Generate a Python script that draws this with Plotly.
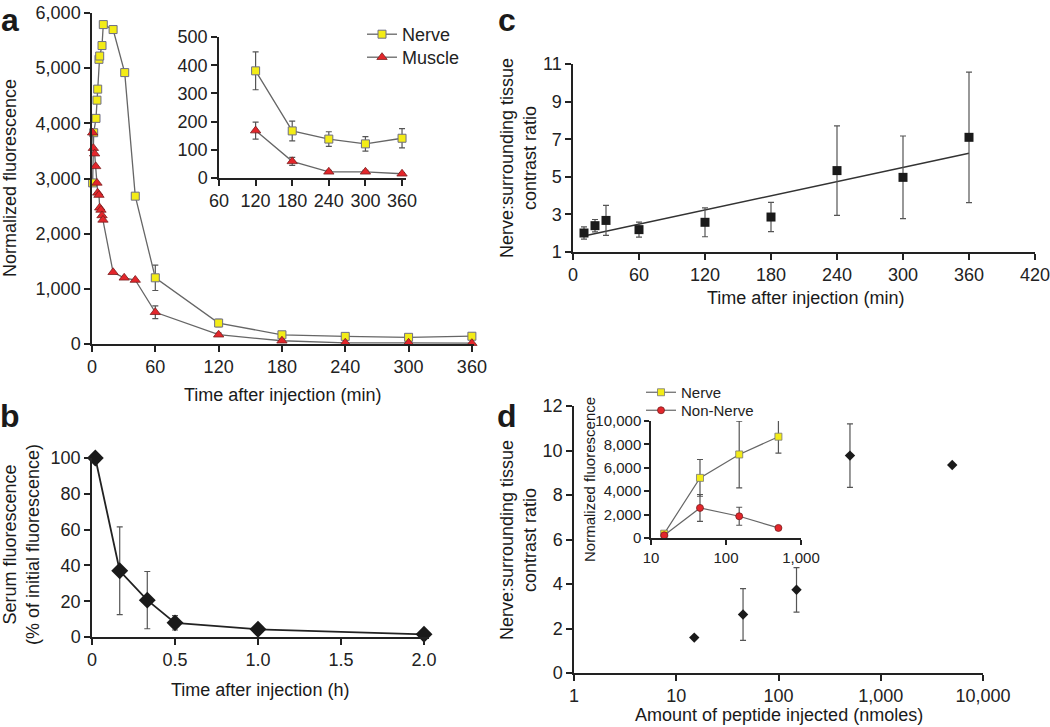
import plotly.graph_objects as go

# ---------------- data ----------------
# Panel a: normalized fluorescence vs time (min)
nerve_t = [0.6, 1.6, 3.8, 4.7, 5.4, 6.6, 7.3, 9.5, 10.7, 20, 31, 41, 60, 120, 180, 240, 300, 360]
nerve_v = [2920, 3830, 4090, 4420, 4620, 5160, 5220, 5410, 5790, 5700, 4920, 2680, 1200, 380, 167, 138, 121, 141]
nerve_err = [0, 0, 0, 0, 0, 0, 0, 0, 0, 0, 0, 0, 230, 67, 35, 26, 26, 34]

muscle_t = [0.6, 1.3, 2.5, 3.5, 4.7, 5.4, 6.6, 7.3, 8.5, 9.5, 10.4, 20, 30.5, 41, 60, 120, 180, 240, 300, 360]
muscle_v = [3830, 3550, 3450, 3220, 2920, 2740, 2700, 2470, 2430, 2330, 2250, 1300, 1200, 1160, 575, 168, 59, 22, 22, 15]
muscle_err = [0, 0, 0, 0, 0, 0, 0, 0, 0, 0, 0, 0, 0, 0, 115, 30, 14, 5, 5, 4]

# Panel b: serum fluorescence (% of initial) vs time (h)
serum_t = [0.02, 0.167, 0.333, 0.5, 1.0, 2.0]
serum_v = [100, 37, 20.6, 7.9, 4.3, 1.5]
serum_err = [0, 24.5, 16, 4, 2.5, 0]

# Panel c: contrast ratio vs time (min)
ratio_t = [10, 20, 30, 60, 120, 180, 240, 300, 360]
ratio_v = [2.01, 2.40, 2.68, 2.19, 2.58, 2.86, 5.33, 4.97, 7.10]
ratio_err = [0.33, 0.33, 0.80, 0.40, 0.77, 0.78, 2.38, 2.20, 3.47]
trend_t = [10, 360]
trend_v = [1.85, 6.25]

# Panel d: contrast ratio vs dose (nmoles)
dose = [15, 45, 150, 500, 5000]
dose_ratio = [1.59, 2.63, 3.74, 9.77, 9.35]
dose_err = [0, 1.16, 1.0, 1.43, 0]

# Panel d inset: normalized fluorescence vs dose
inset_dose = [15, 45, 150, 500]
nerve_fl = [370, 5140, 7140, 8660]
nerve_fl_err = [0, 1570, 2850, 1400]
non_fl = [230, 2570, 1860, 860]
non_fl_err = [0, 1150, 770, 60]

# ---------------- style ----------------
W, H = 1050, 727
FONT = "Liberation Sans, Arial, Helvetica, sans-serif"
YEL = "#f3ec17"
YEL_LINE = "#6e6e86"
RED = "#e3262b"
RED_LINE = "#7a1f1f"
LINE = "#666666"
ERR = dict(color="#555555", thickness=1.2, width=3)
AX = "#222222"


def px(x):
    return x / W


def py(y):
    return 1 - y / H


fig = go.Figure()


def err(arr):
    return dict(type="data", array=arr, visible=True, **ERR)


# Panel a main
fig.add_trace(go.Scatter(x=nerve_t, y=nerve_v, error_y=err(nerve_err), name="Nerve",
                         mode="lines+markers", line=dict(color=LINE, width=1.3),
                         marker=dict(symbol="square", size=8, color=YEL, line=dict(color=YEL_LINE, width=1)),
                         xaxis="x", yaxis="y", cliponaxis=False, legend="legend"))
fig.add_trace(go.Scatter(x=muscle_t, y=muscle_v, error_y=err(muscle_err), name="Muscle",
                         mode="lines+markers", line=dict(color=LINE, width=1.3),
                         marker=dict(symbol="triangle-up", size=9, color=RED, line=dict(color=RED_LINE, width=0.8)),
                         xaxis="x", yaxis="y", cliponaxis=False, legend="legend2"))

# Panel a inset (late time points)
sel_n = [i for i, t in enumerate(nerve_t) if t >= 120]
sel_m = [i for i, t in enumerate(muscle_t) if t >= 120]
fig.add_trace(go.Scatter(x=[nerve_t[i] for i in sel_n], y=[nerve_v[i] for i in sel_n],
                         error_y=err([nerve_err[i] for i in sel_n]), showlegend=False,
                         mode="lines+markers", line=dict(color=LINE, width=1.3),
                         marker=dict(symbol="square", size=8, color=YEL, line=dict(color=YEL_LINE, width=1)),
                         xaxis="x2", yaxis="y2", cliponaxis=False))
fig.add_trace(go.Scatter(x=[muscle_t[i] for i in sel_m], y=[muscle_v[i] for i in sel_m],
                         error_y=err([muscle_err[i] for i in sel_m]), showlegend=False,
                         mode="lines+markers", line=dict(color=LINE, width=1.3),
                         marker=dict(symbol="triangle-up", size=9, color=RED, line=dict(color=RED_LINE, width=0.8)),
                         xaxis="x2", yaxis="y2", cliponaxis=False))

# Panel b
fig.add_trace(go.Scatter(x=serum_t, y=serum_v, error_y=err(serum_err), showlegend=False,
                         mode="lines+markers", line=dict(color="#222222", width=1.8),
                         marker=dict(symbol="diamond", size=13, color="#1a1a1a"),
                         xaxis="x3", yaxis="y3", cliponaxis=False))

# Panel c
fig.add_trace(go.Scatter(x=trend_t, y=trend_v, showlegend=False, mode="lines",
                         line=dict(color="#333333", width=1.5), xaxis="x4", yaxis="y4"))
fig.add_trace(go.Scatter(x=ratio_t, y=ratio_v, error_y=err(ratio_err), showlegend=False,
                         mode="markers", marker=dict(symbol="square", size=9, color="#1a1a1a"),
                         xaxis="x4", yaxis="y4", cliponaxis=False))

# Panel d
fig.add_trace(go.Scatter(x=dose, y=dose_ratio, error_y=err(dose_err), showlegend=False,
                         mode="markers", marker=dict(symbol="diamond", size=8, color="#1a1a1a"),
                         xaxis="x5", yaxis="y5", cliponaxis=False))

# Panel d inset
fig.add_trace(go.Scatter(x=inset_dose, y=nerve_fl, error_y=err(nerve_fl_err), name="Nerve",
                         mode="lines+markers", line=dict(color=LINE, width=1.2),
                         marker=dict(symbol="square", size=7, color=YEL, line=dict(color="#777777", width=0.8)),
                         xaxis="x6", yaxis="y6", cliponaxis=False, legend="legend3"))
fig.add_trace(go.Scatter(x=inset_dose, y=non_fl, error_y=err(non_fl_err), name="Non-Nerve",
                         mode="lines+markers", line=dict(color=LINE, width=1.2),
                         marker=dict(symbol="circle", size=7, color=RED, line=dict(color=RED_LINE, width=0.8)),
                         xaxis="x6", yaxis="y6", cliponaxis=False, legend="legend4"))


def axis(dom, rng, size=18, **kw):
    d = dict(domain=dom, range=rng, showgrid=False, zeroline=False, showline=True,
             linecolor=AX, linewidth=1.5, ticks="outside", ticklen=6, tickwidth=1.5,
             tickcolor=AX, tickfont=dict(size=size, color=AX, family=FONT), fixedrange=True,
             automargin=False, ticklabeloverflow="allow")
    d.update(kw)
    return d


def leg(x, ytop, size):
    return dict(x=px(x), y=py(ytop), xanchor="left", yanchor="top",
                font=dict(size=size, family=FONT, color=AX),
                bgcolor="rgba(0,0,0,0)", itemwidth=30, tracegroupgap=0)


fig.update_layout(
    width=W, height=H, margin=dict(l=0, r=0, t=0, b=0, pad=0, autoexpand=False),
    paper_bgcolor="white", plot_bgcolor="rgba(0,0,0,0)",
    font=dict(family=FONT, color=AX, size=18),
    separators=".,",
    xaxis=axis([px(92), px(474)], [0, 362], anchor="y", tickvals=[0, 60, 120, 180, 240, 300, 360]),
    yaxis=axis([py(344), py(13)], [0, 6000], anchor="x", tickvals=[0, 1000, 2000, 3000, 4000, 5000, 6000],
               tickformat=","),
    xaxis2=axis([px(219), px(405.7)], [60, 366], anchor="y2", tickvals=[60, 120, 180, 240, 300, 360]),
    yaxis2=axis([py(178), py(37)], [0, 500], anchor="x2", tickvals=[0, 100, 200, 300, 400, 500]),
    xaxis3=axis([px(92), px(429)], [0, 2.03], anchor="y3", tickvals=[0, 0.5, 1.0, 1.5, 2.0],
                ticktext=["0", "0.5", "1.0", "1.5", "2.0"]),
    yaxis3=axis([py(637), py(458)], [0, 100], anchor="x3", tickvals=[0, 20, 40, 60, 80, 100]),
    xaxis4=axis([px(573), px(1035)], [0, 420], anchor="y4", tickvals=[0, 60, 120, 180, 240, 300, 360, 420]),
    yaxis4=axis([py(252), py(64)], [1, 11], anchor="x4", tickvals=[1, 3, 5, 7, 9, 11]),
    xaxis5=axis([px(574), px(983)], [0, 4], anchor="y5", type="log", tickvals=[1, 10, 100, 1000, 10000],
                ticktext=["1", "10", "100", "1,000", "10,000"]),
    yaxis5=axis([py(673), py(406)], [0, 12], anchor="x5", tickvals=[0, 2, 4, 6, 8, 10, 12]),
    xaxis6=axis([px(651), px(801)], [1, 3], size=15, anchor="y6", type="log", tickvals=[10, 100, 1000],
                ticktext=["10", "100", "1,000"], ticklen=5),
    yaxis6=axis([py(538), py(421)], [0, 10000], size=15, anchor="x6",
                tickvals=[0, 2000, 4000, 6000, 8000, 10000], tickformat=",", ticklen=5),
    legend=leg(362, 16, 18),
    legend2=leg(362, 39, 18),
    legend3=leg(641, 376, 15),
    legend4=leg(641, 394, 15),
)

ann = []


def text(x, y, s, size=18, angle=0, bold=False, yanchor="middle"):
    ann.append(dict(x=px(x), y=py(y), xref="paper", yref="paper", text=("<b>%s</b>" % s) if bold else s,
                    showarrow=False, textangle=angle, xanchor="center", yanchor=yanchor,
                    font=dict(size=size, family=FONT, color="#1a1a1a")))


# axis titles
text(10, 178, "Normalized fluorescence", angle=-90)
text(282, 395, "Time after injection (min)")
text(21, 545, "Serum fluorescence<br>(% of initial fluorescence)", angle=-90)
text(260, 690, "Time after injection (h)")
text(518, 158, "Nerve:surrounding tissue<br>contrast ratio", angle=-90)
text(805, 298, "Time after injection (min)")
text(518, 540, "Nerve:surrounding tissue<br>contrast ratio", angle=-90)
text(779, 715, "Amount of peptide injected (nmoles)")
text(589, 480, "Normalized fluorescence", size=15, angle=-90)
# panel letters
text(10, 0, "a", size=32, bold=True, yanchor="top")
text(10, 396, "b", size=32, bold=True, yanchor="top")
text(507, 0, "c", size=32, bold=True, yanchor="top")
text(507, 396, "d", size=32, bold=True, yanchor="top")

fig.update_layout(annotations=ann)
fig.write_html("out.html", config={"displayModeBar": False},
               post_script="document.body.style.margin='0';document.body.style.overflow='hidden';")
